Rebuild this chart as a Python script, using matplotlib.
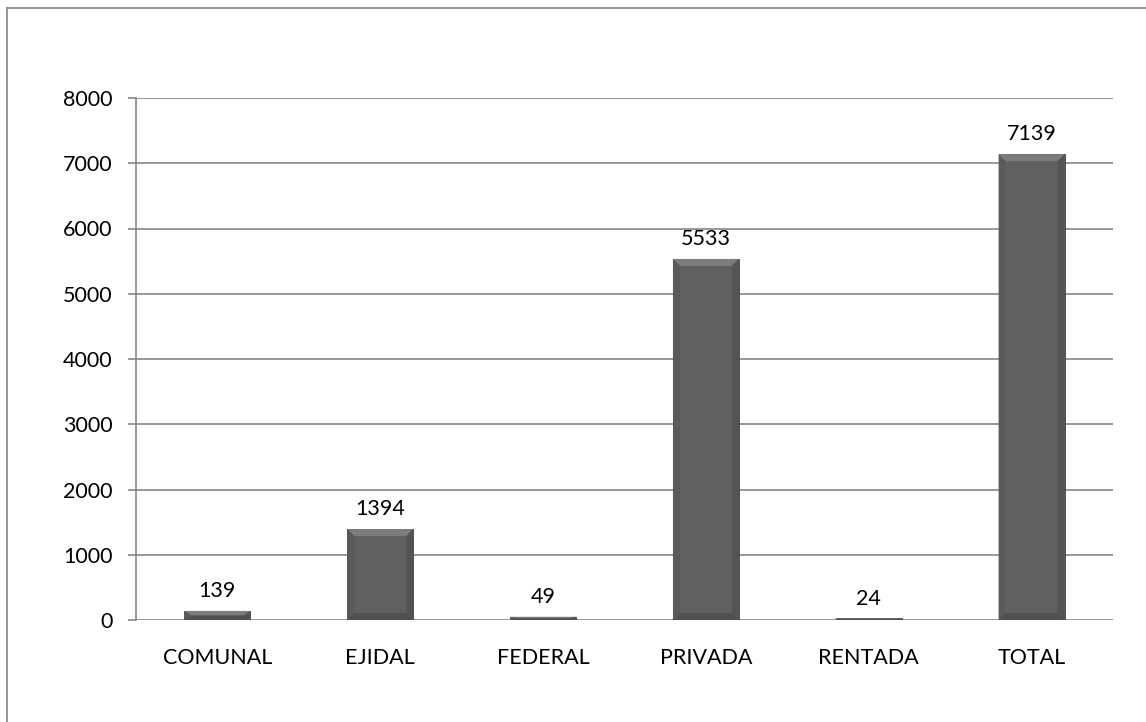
import matplotlib
matplotlib.use("Agg")
import matplotlib.pyplot as plt
from matplotlib.patches import Polygon
import matplotlib.patheffects as pe
from matplotlib.lines import Line2D

categories = ["COMUNAL", "EJIDAL", "FEDERAL", "PRIVADA", "RENTADA", "TOTAL"]
values = [139, 1394, 49, 5533, 24, 7139]
yticks = [0, 1000, 2000, 3000, 4000, 5000, 6000, 7000, 8000]

plt.rcParams['font.family'] = ['Lato', 'DejaVu Sans']

W, H = 1146, 722
fig = plt.figure(figsize=(W / 100, H / 100), dpi=100)
fig.patch.set_facecolor('white')

# outer chart border (top and left visible)
fig.add_artist(Line2D([7 / W, 1.0], [1 - 8 / H, 1 - 8 / H], color='#8c8c8c', lw=1.3))
fig.add_artist(Line2D([7 / W, 7 / W], [0, 1 - 8 / H], color='#8c8c8c', lw=1.3))

ax = fig.add_axes([136 / W, 1 - 620 / H, (1113 - 136) / W, (620 - 98) / H])
x = list(range(len(categories)))
bw = 0.405
ax.set_xlim(-0.5, len(categories) - 0.5)
ax.set_ylim(0, 8000)

grid_c = '#868686'
for t in yticks:
    ax.axhline(t, color=grid_c, lw=1.2, zorder=1)

bars = ax.bar(x, values, width=bw, color='#606060', edgecolor='#404040', lw=0.6, zorder=3,
              path_effects=[pe.SimplePatchShadow(offset=(0, -3), shadow_rgbFace='#a0a0a0', alpha=0.45),
                            pe.Normal()])

# bevel (computed from bar geometry)
px_x = (len(categories)) / (1113 - 136)
px_y = 8000 / (620 - 98)
for xi, v in zip(x, values):
    l, r = xi - bw / 2, xi + bw / 2
    bx = 7 * px_x
    by = min(7 * px_y, v / 2)
    top = Polygon([(l, v), (r, v), (r - bx, v - by), (l + bx, v - by)], closed=True,
                  facecolor='#7c7c7c', edgecolor='none', zorder=4)
    left = Polygon([(l, v), (l + bx, v - by), (l + bx, by), (l, 0)], closed=True,
                   facecolor='#5a5a5a', edgecolor='none', zorder=4)
    right = Polygon([(r, v), (r - bx, v - by), (r - bx, by), (r, 0)], closed=True,
                    facecolor='#545454', edgecolor='none', zorder=4)
    bot = Polygon([(l, 0), (r, 0), (r - bx, by), (l + bx, by)], closed=True,
                  facecolor='#505050', edgecolor='none', zorder=4)
    for p in (top, left, right, bot):
        ax.add_patch(p)
    ax.annotate(str(v), (xi, v), xytext=(0, 7), textcoords='offset points',
                ha='center', va='bottom', fontsize=15.5, color='#000000', zorder=5)

for s in ['top', 'right', 'bottom']:
    ax.spines[s].set_visible(False)
ax.spines['left'].set_color(grid_c)
ax.spines['left'].set_linewidth(1.2)

ax.set_yticks(yticks)
ax.set_yticklabels([str(t) for t in yticks])
ax.set_xticks(x)
ax.set_xticklabels(categories)
ax.tick_params(axis='y', length=6, width=1.2, color=grid_c, pad=11, labelsize=15.5)
ax.tick_params(axis='x', length=0, pad=20, labelsize=15.5)

fig.savefig('out.png', dpi=100)
